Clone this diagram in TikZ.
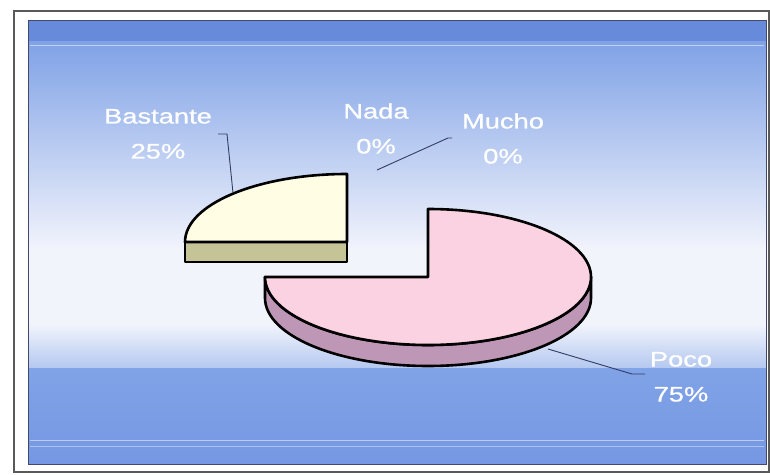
\documentclass[tikz,border=0pt]{standalone}
\usepackage{fontspec}
\setmainfont{Liberation Sans}
\newfontfamily\lblfont{Liberation Sans}[FakeBold=0.7]
\usepackage{graphicx}
\definecolor{bgtop}{RGB}{104,138,218}
\definecolor{bgblue}{RGB}{128,162,230}
\definecolor{bgpale}{RGB}{242,244,252}
\definecolor{bgmid}{RGB}{180,200,240}
\definecolor{bgbot}{RGB}{118,152,228}
\definecolor{pinktop}{RGB}{250,210,225}
\definecolor{pinkside}{RGB}{190,150,182}
\definecolor{creamtop}{RGB}{255,253,228}
\definecolor{oliveside}{RGB}{196,196,150}
\definecolor{leader}{RGB}{50,60,100}
\newcommand\twolines[2]{\scalebox{1.3}[1]{\lblfont\fontsize{21}{35}\selectfont\begin{tabular}{@{}c@{}}#1\\#2\end{tabular}}}
\tikzset{
  slice/.style={draw=black, line width=2.6pt, line join=round},
  lbl/.style={text=white, inner sep=0pt},
  leaderline/.style={draw=leader, line width=0.9pt}
}
\begin{document}
\begin{tikzpicture}[x=1pt,y=1pt]
\useasboundingbox (0,0) rectangle (770,474);
\fill[white] (0,0) rectangle (770,474);
% outer frame
\draw[gray!70!black, line width=2pt] (14,2) rectangle (769,463);
% plot area background
\shade[top color=bgtop, bottom color=bgtop] (28,432) rectangle (766,453);
\shade[top color=bgblue, bottom color=bgpale] (28,224) rectangle (766,432);
\shade[top color=bgpale, bottom color=bgpale] (28,150) rectangle (766,224);
\shade[top color=bgpale, bottom color=bgmid] (28,106) rectangle (766,150);
\shade[top color=bgblue, bottom color=bgbot] (28,10) rectangle (766,106);
\draw[white, opacity=0.5, line width=1pt] (30,428) -- (764,428);
\draw[white, opacity=0.5, line width=1pt] (30,34) -- (764,34);
\draw[white, opacity=0.4, line width=1pt] (30,28) -- (764,28);
\draw[leader!80!gray, line width=1pt] (28,10) rectangle (766,453);
% Poco slice (75%)
\coordinate (pc) at (428,197);
\filldraw[slice, fill=pinkside] (265,197) arc[start angle=180, end angle=360, x radius=163, y radius=68]
  -- (591,176) arc[start angle=0, end angle=-180, x radius=163, y radius=68] -- cycle;
\filldraw[slice, fill=pinktop] (pc) -- (428,265) arc[start angle=90, end angle=-180, x radius=163, y radius=68] -- cycle;
% Bastante slice (25%)
\coordinate (bc) at (347,232);
\filldraw[slice, fill=oliveside] (185,232) rectangle (347,212);
\filldraw[slice, fill=creamtop] (bc) -- (347,300) arc[start angle=90, end angle=180, x radius=162, y radius=68] -- cycle;
% leader end points
\coordinate (bastA) at (233,281);
\coordinate (bastB) at (227,340);
\coordinate (bastC) at (218,340);
\coordinate (nadaA) at (377,304);
\coordinate (nadaB) at (448,336);
\coordinate (nadaC) at (452,336);
\coordinate (pocoA) at (548,125);
\coordinate (pocoB) at (632,100);
\coordinate (pocoC) at (645,100);
\draw[leaderline] (bastA) -- (bastB) -- (bastC);
\draw[leaderline] (nadaA) -- (nadaB) -- (nadaC);
\draw[leaderline] (pocoA) -- (pocoB) -- (pocoC);
% labels
\node[lbl] (bastante) at (158,340) {\twolines{Bastante}{25\%}};
\node[lbl] (nada) at (376,345) {\twolines{Nada}{0\%}};
\node[lbl] (mucho) at (503,335) {\twolines{Mucho}{0\%}};
\node[lbl] (poco) at (681,97) {\twolines{Poco}{75\%}};
\end{tikzpicture}
\end{document}
